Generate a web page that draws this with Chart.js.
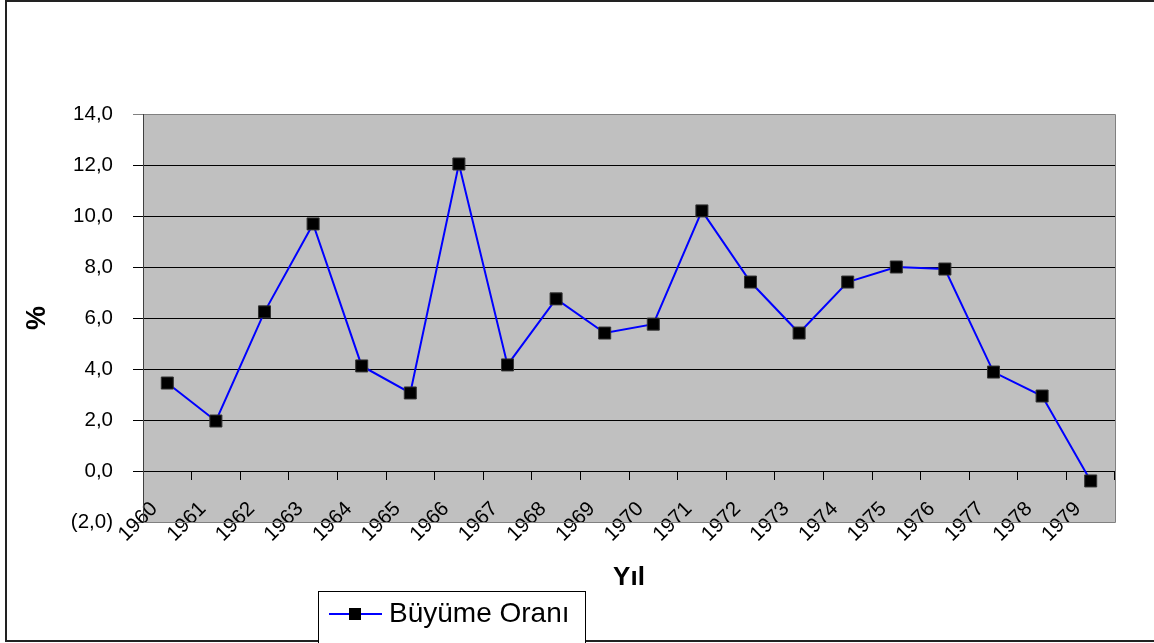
<!DOCTYPE html>
<html>
<head>
<meta charset="utf-8">
<script src="https://cdn.jsdelivr.net/npm/chart.js@4/dist/chart.umd.min.js"></script>
<style>
  html, body { margin: 0; padding: 0; background: #fff; }
  #wrap { width: 1154px; height: 643px; }
</style>
</head>
<body>
<div id="wrap"><canvas id="myChart" width="1154" height="643"></canvas></div>
<script>
const years = ["1960", "1961", "1962", "1963", "1964", "1965", "1966", "1967", "1968", "1969",
  "1970", "1971", "1972", "1973", "1974", "1975", "1976", "1977", "1978", "1979"];
const growth = [3.45, 1.96, 6.24, 9.69, 4.12, 3.06, 12.04, 4.16, 6.75, 5.41,
  5.76, 10.2, 7.41, 5.41, 7.41, 8.0, 7.92, 3.88, 2.94, -0.39];
const yTicks = [-2, 0, 2, 4, 6, 8, 10, 12, 14];
const yTickLabels = ["(2,0)", "0,0", "2,0", "4,0", "6,0", "8,0", "10,0", "12,0", "14,0"];

const seriesName = "Büyüme Oranı";
const font = "'Liberation Sans', Arial, sans-serif";

// gray plot area + outer frame + legend + x title
const excelLook = {
  id: "excelLook",
  beforeDraw(chart) {
    const { ctx, chartArea: a } = chart;
    ctx.save();
    ctx.fillStyle = "#fff";
    ctx.fillRect(0, 0, chart.width, chart.height);
    ctx.fillStyle = "#c0c0c0";
    ctx.fillRect(a.left, a.top, a.right - a.left, a.bottom - a.top);
    ctx.restore();
  },
  afterDraw(chart) {
    const { ctx, chartArea: a } = chart;
    ctx.save();
    // plot frame
    ctx.strokeStyle = "#808080";
    ctx.lineWidth = 1;
    ctx.beginPath();
    ctx.moveTo(a.left, a.top + 0.5);
    ctx.lineTo(a.right + 0.5, a.top + 0.5);
    ctx.lineTo(a.right + 0.5, a.bottom + 0.5);
    ctx.lineTo(a.left, a.bottom + 0.5);
    ctx.stroke();
    ctx.strokeStyle = "#404040";
    ctx.beginPath();
    ctx.moveTo(a.left + 0.5, a.top);
    ctx.lineTo(a.left + 0.5, a.bottom + 1);
    ctx.stroke();

    // outer chart border
    ctx.strokeStyle = "#222";
    ctx.lineWidth = 2;
    ctx.strokeRect(6, 1, 1200, 640);

    // x title
    ctx.fillStyle = "#000";
    ctx.font = "bold 26px " + font;
    ctx.textAlign = "center";
    ctx.textBaseline = "middle";
    ctx.fillText("Yıl", (a.left + a.right) / 2, 578);

    // legend
    const ds = chart.data.datasets[0];
    ctx.fillStyle = "#fff";
    ctx.fillRect(318, 591, 268, 60);
    ctx.strokeStyle = "#000";
    ctx.lineWidth = 1;
    ctx.strokeRect(318.5, 591.5, 267, 60);
    ctx.strokeStyle = ds.borderColor;
    ctx.lineWidth = 2;
    ctx.beginPath();
    ctx.moveTo(329, 614);
    ctx.lineTo(382, 614);
    ctx.stroke();
    ctx.fillStyle = ds.pointBackgroundColor;
    ctx.fillRect(349, 608, 12, 12);
    ctx.fillStyle = "#000";
    ctx.font = "28px " + font;
    ctx.textAlign = "left";
    ctx.fillText(ds.label, 389, 614);
    ctx.restore();
  }
};

const data = {
  labels: years,
  datasets: [
    {
      label: seriesName,
      data: growth,
      borderColor: "#0000ff",
      borderWidth: 2,
      tension: 0,
      pointStyle: "rect",
      pointRadius: 8.5,
      pointHoverRadius: 8.5,
      pointBackgroundColor: "#000",
      pointBorderColor: "#333",
      pointBorderWidth: 1,
    },
  ],
};

const config = {
  type: "line",
  data: data,
  plugins: [excelLook],
  options: {
    responsive: false,
    animation: false,
    layout: {
      padding: { left: 0, top: 114, right: 39, bottom: 121 },
    },
    scales: {
      x: {
        position: { y: 0 },
        offset: true,
        grid: {
          offset: true,
          drawOnChartArea: false,
          drawTicks: true,
          tickLength: 8,
          color: "#000",
        },
        border: { display: true, color: "#000", width: 1 },
        ticks: {
          autoSkip: false,
          minRotation: 45,
          maxRotation: 45,
          labelOffset: -13,
          padding: 18,
          color: "#000",
          font: { family: font, size: 20.5 },
        },
      },
      y: {
        min: -2,
        max: 14,
        afterFit: (s) => { s.width = 143; },
        afterBuildTicks: (s) => { s.ticks = yTicks.map((v) => ({ value: v })); },
        grid: {
          color: (c) => (c.tick && (c.tick.value === -2 || c.tick.value === 14) ? "#808080" : "#000"),
          tickLength: 10,
          lineWidth: 1,
        },
        border: { display: false },
        ticks: {
          padding: 20,
          color: "#000",
          font: { family: font, size: 20.5 },
          callback: (v) => yTickLabels[yTicks.indexOf(v)],
        },
        title: {
          display: true,
          text: "%",
          color: "#000",
          font: { family: font, size: 27, weight: "bold" },
          padding: { top: 21, bottom: 0 },
        },
      },
    },
    plugins: {
      legend: { display: false },
      tooltip: { enabled: false },
    },
  },
};

const myChart = new Chart(document.getElementById("myChart"), config);
</script>
</body>
</html>
